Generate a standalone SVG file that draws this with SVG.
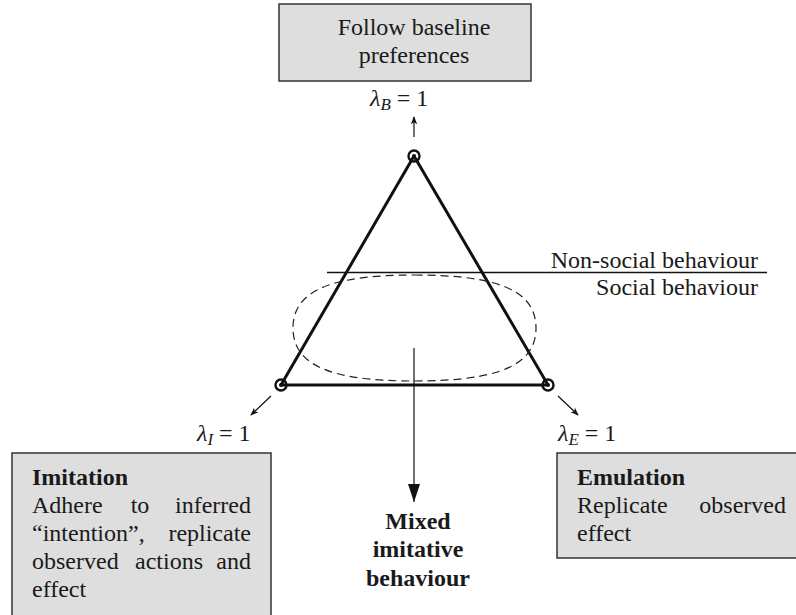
<svg xmlns="http://www.w3.org/2000/svg" width="796" height="615" viewBox="0 0 796 615">
<style>
.t{font-family:"Liberation Serif","Times New Roman",serif;font-size:24px;fill:#1a1a1a}
.b{font-weight:bold}
.m{font-style:italic}
.box{fill:#dedede;stroke:#333;stroke-width:1.5}
.thin{stroke:#111;stroke-width:1.2;fill:none}
.tri{stroke:#111;stroke-width:3;fill:none;stroke-linejoin:round}
.vtx{fill:none;stroke:#111;stroke-width:2.4}
</style>
<defs>
<marker id="sa" viewBox="0 0 10 10" refX="9" refY="5" markerWidth="8" markerHeight="8" markerUnits="userSpaceOnUse" orient="auto">
<path d="M0,1 L10,5 L0,9 L2.5,5 Z" fill="#111"/>
</marker>
<marker id="ba" viewBox="0 0 18 12" refX="18" refY="6" markerWidth="18" markerHeight="12" markerUnits="userSpaceOnUse" orient="auto">
<path d="M0,0 L18,6 L0,12 Z" fill="#111"/>
</marker>
</defs>

<g id="node-baseline">
<rect class="box" x="279" y="4" width="252" height="77"/>
<text class="t" x="414" y="35" text-anchor="middle">Follow baseline</text>
<text class="t" x="414" y="63" text-anchor="middle">preferences</text>
</g>

<g id="label-lambdaB">
<text class="t" x="370" y="106"><tspan class="m">λ</tspan><tspan class="m" font-size="17" dy="4">B</tspan><tspan dy="-4"> = 1</tspan></text>
</g>

<g id="connectors">
<line class="thin" x1="414" y1="137" x2="414" y2="117" marker-end="url(#sa)"/>
<line class="thin" x1="271" y1="396" x2="251" y2="415" marker-end="url(#sa)"/>
<line class="thin" x1="558" y1="396" x2="578" y2="415" marker-end="url(#sa)"/>
<line class="thin" x1="414" y1="348" x2="414" y2="502" marker-end="url(#ba)"/>
</g>

<g id="simplex">
<path class="tri" d="M414,156 L281,385 L548,385 Z"/>
<line x1="327" y1="272.5" x2="767" y2="272.5" stroke="#111" stroke-width="1.3"/>
<path d="M414.5,275 C499,275 536,291 536,328 C536,365 499,381 414.5,381 C330,381 293,365 293,328 C293,291 330,275 414.5,275 Z" fill="none" stroke="#222" stroke-width="1.2" stroke-dasharray="8,5"/>
</g>

<g id="vertex-B"><circle class="vtx" cx="414" cy="156" r="5.5"/><circle cx="414" cy="156" r="2" fill="#111"/></g>
<g id="vertex-I"><circle class="vtx" cx="281" cy="385" r="5.5"/><circle cx="281" cy="385" r="2" fill="#111"/></g>
<g id="vertex-E"><circle class="vtx" cx="548" cy="385" r="5.5"/><circle cx="548" cy="385" r="2" fill="#111"/></g>

<g id="label-regions">
<text class="t" x="758" y="268" text-anchor="end">Non-social behaviour</text>
<text class="t" x="758" y="295" text-anchor="end">Social behaviour</text>
</g>

<g id="label-lambdaI">
<text class="t" x="197" y="441"><tspan class="m">λ</tspan><tspan class="m" font-size="17" dy="4">I</tspan><tspan dy="-4"> = 1</tspan></text>
</g>
<g id="label-lambdaE">
<text class="t" x="558" y="441"><tspan class="m">λ</tspan><tspan class="m" font-size="17" dy="4">E</tspan><tspan dy="-4"> = 1</tspan></text>
</g>

<g id="node-imitation">
<rect class="box" x="12" y="453" width="259" height="170"/>
<text class="t b" x="32" y="485">Imitation</text>
<text class="t" x="32" y="513">Adhere</text>
<text class="t" x="140" y="513" text-anchor="middle">to</text>
<text class="t" x="251" y="513" text-anchor="end">inferred</text>
<text class="t" x="32" y="541">“intention”,</text>
<text class="t" x="251" y="541" text-anchor="end">replicate</text>
<text class="t" x="32" y="569">observed</text>
<text class="t" x="135" y="569">actions</text>
<text class="t" x="251" y="569" text-anchor="end">and</text>
<text class="t" x="32" y="597">effect</text>
</g>

<g id="node-emulation">
<rect class="box" x="557" y="453" width="245" height="105"/>
<text class="t b" x="577" y="485">Emulation</text>
<text class="t" x="577" y="513">Replicate</text>
<text class="t" x="786" y="513" text-anchor="end">observed</text>
<text class="t" x="577" y="541">effect</text>
</g>

<g id="node-mixed">
<text class="t b" x="418" y="529" text-anchor="middle">Mixed</text>
<text class="t b" x="418" y="557" text-anchor="middle">imitative</text>
<text class="t b" x="418" y="586" text-anchor="middle">behaviour</text>
</g>
</svg>
